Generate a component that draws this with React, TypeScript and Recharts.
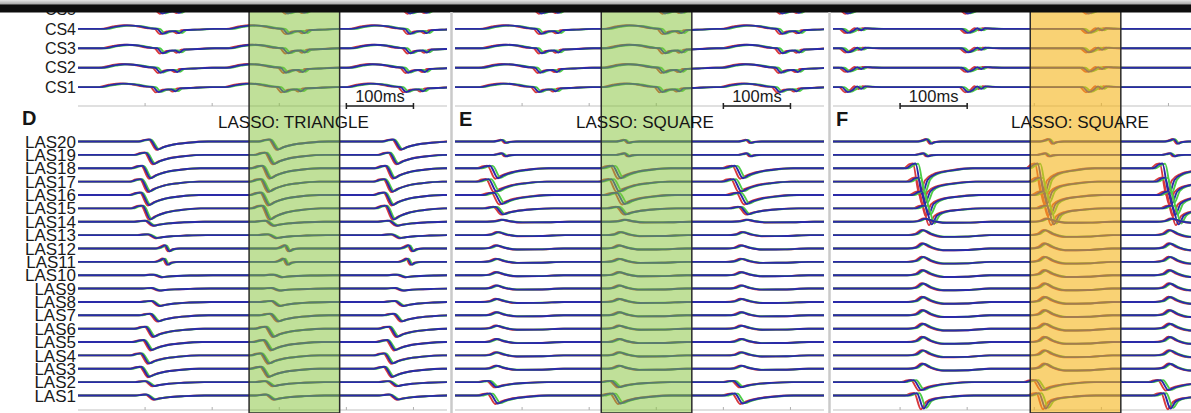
import React from 'react';
import { LineChart, Line, XAxis, YAxis, ReferenceArea, ReferenceLine } from 'recharts';

// channel names, top to bottom
const CS_LABELS = ['CS5', 'CS4', 'CS3', 'CS2', 'CS1'];
const LAS_LABELS = [
  'LAS20', 'LAS19', 'LAS18', 'LAS17', 'LAS16', 'LAS15', 'LAS14', 'LAS13', 'LAS12', 'LAS11',
  'LAS10', 'LAS9', 'LAS8', 'LAS7', 'LAS6', 'LAS5', 'LAS4', 'LAS3', 'LAS2', 'LAS1',
];
const AXIS_TICKS = [100, 200, 300, 400, 500];

// red, green, blue copies of each electrogram
const TRACE_COLORS = ['#d8393c', '#4dcc47', '#2a2aa8'];
const COLOR_SHIFT = [-2, 2, 0];
const COLOR_GAIN = [1.05, 0.95, 1];

// deflection templates: [ms from onset, normalised value]
const SHAPES: Record<string, number[][]> = {
  drop: [[-18, 0], [-8, 0.2], [-2, 0.25], [10, -1], [18, -0.72], [32, -0.4], [55, -0.15], [85, 0]],
  spike: [[-14, 0], [-5, 0.15], [0, 0.18], [10, -1], [18, -0.45], [30, -0.22], [55, -0.08], [85, 0]],
  notch: [[-10, 0], [-3, 0.35], [3, 0.8], [9, -0.7], [15, -0.2], [25, 0]],
  bump: [[-12, 0], [0, 0.2], [10, 1], [22, 0.25], [40, -0.35], [75, -0.3], [110, 0]],
  csD: [[-80, 0], [-62, 0.45], [-45, 0.7], [-28, 0.55], [-12, 0.15], [0, 0], [8, -1], [18, -0.5], [27, -0.45], [33, -0.85], [40, -0.25], [60, -0.15], [85, 0]],
  csF: [[-10, 0], [0, 0], [9, -1], [17, -0.5], [23, 0.15], [29, -0.35], [35, 0.15], [48, 0.05], [70, 0]],
};

// ---- panel D: LASSO triangle
const D_WINDOW = [255, 390];
const D_SCALE_BAR = [400, 500];
const D_CS_BEATS = [118, 305, 487];
const D_CS_DELAY = [0, 0, 0, -3, -6];
const D_CS_AMP = [4, 5, 5, 5, 5];
const D_LAS_BEATS = [97, 276, 460];
const D_LAS_DELAY = [12, 6, 1, -1, -1, 1, 6, 10, 30, 28, 18, 15, 15, 13, 6, 3, -1, -1, 6, 7];
const D_LAS_AMP = [8, 9, 10, 10, 10, 11, 4, 3, 4, 4, 2, 2, 4, 6, 8, 8, 8, 8, 4, 4];
const D_LAS_SHAPE = ['drop', 'drop', 'drop', 'drop', 'drop', 'drop', 'drop', 'drop', 'notch', 'notch',
  'drop', 'drop', 'drop', 'drop', 'drop', 'drop', 'drop', 'drop', 'drop', 'drop'];
const D_LAS_SPREAD = [1, 1, 1, 1, 1, 1, 1, 1, 1, 1, 1, 1, 1, 1, 1, 1, 1, 1, 1, 1];

// ---- panel E: LASSO square
const E_WINDOW = [218, 353];
const E_SCALE_BAR = [400, 500];
const E_CS_BEATS = [121, 305, 480];
const E_CS_DELAY = [0, 0, 0, -2, -4];
const E_CS_AMP = [4, 5, 5, 5, 5];
const E_LAS_BEATS = [52, 235, 417];
const E_LAS_DELAY = [15, 15, 2, 0, 8, 10, 8, 2, 0, 0, 0, 0, 0, 0, 0, 0, 0, 0, 0, 2];
const E_LAS_AMP = [2, 2, 10, 10, 9, 6, 2, 3, 3, 3, 3, 3, 3, 3, 3, 3, 3, 3, 5, 8];
const E_LAS_SHAPE = ['notch', 'notch', 'drop', 'drop', 'drop', 'drop', 'bump', 'bump', 'bump', 'bump',
  'bump', 'bump', 'bump', 'bump', 'bump', 'bump', 'bump', 'bump', 'drop', 'drop'];
const E_LAS_SPREAD = [1, 1, 2, 2, 2, 1.5, 1, 1, 1, 1, 1, 1, 1, 1, 1, 1, 1, 1, 1.5, 2];

// ---- panel F: LASSO square
const F_WINDOW = [294, 429];
const F_SCALE_BAR = [100, 200];
const F_CS_BEATS = [13, 192, 372];
const F_CS_DELAY = [0, 0, 0, 0, 0];
const F_CS_AMP = [4, 4, 4, 4, 5];
const F_LAS_BEATS = [122, 304, 490];
const F_LAS_DELAY = [15, 10, 1, 5, 10, 15, 5, 2, 2, 2, 2, 2, 2, 2, 2, 2, 2, 2, 0, 3];
const F_LAS_AMP = [3, 2, 26, 22, 20, 16, 3, 5, 5, 5, 5, 5, 5, 5, 5, 5, 5, 5, 8, 13];
const F_LAS_SHAPE = ['notch', 'notch', 'spike', 'spike', 'spike', 'spike', 'bump', 'bump', 'bump', 'bump',
  'bump', 'bump', 'bump', 'bump', 'bump', 'bump', 'bump', 'bump', 'drop', 'spike'];
const F_LAS_SPREAD = [1, 1, 2, 2, 2, 2, 1, 1, 1, 1, 1, 1, 1, 1, 1, 1, 1, 1, 2, 2];

// layout
const FONT = '"Liberation Sans", Arial, sans-serif';
const HEIGHT = 413;
const PLOT_W = 369;
const T_MAX = 550;
const CS_TOP = 9.5;
const CS_STEP = 19.4;
const LAS_TOP = 141.5;
const LAS_STEP = 13.37;
const MID_AXIS = 106;
const BOTTOM_AXIS = 410;

type Row = { base: number; beats: number[]; delay: number; amp: number; shape: string; spread: number };

function trace(row: Row, c: number) {
  const pts = [{ t: -20, v: row.base }];
  row.beats.forEach((b) => {
    SHAPES[row.shape].forEach(([dt, s]) => {
      pts.push({ t: b + row.delay + dt + COLOR_SHIFT[c] * row.spread, v: row.base - row.amp * COLOR_GAIN[c] * s });
    });
  });
  pts.push({ t: T_MAX + 20, v: row.base });
  return pts.sort((a, b) => a.t - b.t);
}

const panels = [
  {
    key: 'D', left: 0, labels: true, window: D_WINDOW, scaleBar: D_SCALE_BAR,
    box: '#86c43c', boxOpacity: 0.52,
    cs: { beats: D_CS_BEATS, delay: D_CS_DELAY, amp: D_CS_AMP, shape: 'csD' },
    las: { beats: D_LAS_BEATS, delay: D_LAS_DELAY, amp: D_LAS_AMP, shape: D_LAS_SHAPE, spread: D_LAS_SPREAD },
  },
  {
    key: 'E', left: 455, labels: false, window: E_WINDOW, scaleBar: E_SCALE_BAR,
    box: '#86c43c', boxOpacity: 0.52,
    cs: { beats: E_CS_BEATS, delay: E_CS_DELAY, amp: E_CS_AMP, shape: 'csD' },
    las: { beats: E_LAS_BEATS, delay: E_LAS_DELAY, amp: E_LAS_AMP, shape: E_LAS_SHAPE, spread: E_LAS_SPREAD },
  },
  {
    key: 'F', left: 833, labels: false, window: F_WINDOW, scaleBar: F_SCALE_BAR,
    box: '#f5b418', boxOpacity: 0.6,
    cs: { beats: F_CS_BEATS, delay: F_CS_DELAY, amp: F_CS_AMP, shape: 'csF' },
    las: { beats: F_LAS_BEATS, delay: F_LAS_DELAY, amp: F_LAS_AMP, shape: F_LAS_SHAPE, spread: F_LAS_SPREAD },
  },
];

const ALL_LABELS = [...CS_LABELS, ...LAS_LABELS];
const BASES = [
  ...CS_LABELS.map((_, i) => CS_TOP + i * CS_STEP),
  ...LAS_LABELS.map((_, i) => LAS_TOP + i * LAS_STEP),
];

const RowLabel = (props: any) => {
  const { x, y, index } = props;
  const isCs = index < CS_LABELS.length;
  const size = isCs ? 16 : 17;
  return (
    <text x={x} y={y + size * 0.36} textAnchor="end" fontSize={size} fill="#1a1a1a" fontFamily={FONT}>
      {ALL_LABELS[index]}
    </text>
  );
};

function Panel({ p }: { p: (typeof panels)[number] }) {
  const yAxisW = p.labels ? 78 : 0;
  const rows: Row[] = [
    ...CS_LABELS.map((_, i) => ({
      base: BASES[i], beats: p.cs.beats, delay: p.cs.delay[i], amp: p.cs.amp[i], shape: p.cs.shape, spread: 2,
    })),
    ...LAS_LABELS.map((_, i) => ({
      base: BASES[CS_LABELS.length + i], beats: p.las.beats, delay: p.las.delay[i], amp: p.las.amp[i],
      shape: p.las.shape[i], spread: p.las.spread[i],
    })),
  ];
  return (
    <div style={{ position: 'absolute', left: p.left, top: 0 }}>
      <LineChart
        width={PLOT_W + yAxisW}
        height={HEIGHT}
        margin={{ top: 0, right: 0, bottom: 0, left: 0 }}
        style={{ fontFamily: FONT }}
      >
        <XAxis type="number" dataKey="t" domain={[0, T_MAX]} allowDataOverflow hide />
        <YAxis
          type="number"
          domain={[0, HEIGHT]}
          reversed
          allowDataOverflow
          hide={!p.labels}
          width={yAxisW}
          ticks={BASES}
          interval={0}
          axisLine={false}
          tickLine={false}
          tickSize={0}
          tickMargin={2}
          tick={(props: any) => <RowLabel {...props} />}
        />
        <ReferenceLine y={MID_AXIS} stroke="#c2c2c2" strokeWidth={1.2} />
        <ReferenceLine y={BOTTOM_AXIS} stroke="#c2c2c2" strokeWidth={1.2} />
        {AXIS_TICKS.map((t) => (
          <ReferenceLine key={`mt${t}`} segment={[{ x: t, y: MID_AXIS }, { x: t, y: MID_AXIS - 3 }]} stroke="#b0b0b0" />
        ))}
        {AXIS_TICKS.map((t) => (
          <ReferenceLine key={`bt${t}`} segment={[{ x: t, y: BOTTOM_AXIS }, { x: t, y: BOTTOM_AXIS - 3 }]} stroke="#b0b0b0" />
        ))}
        {rows.flatMap((row, r) =>
          TRACE_COLORS.map((color, c) => (
            <Line
              key={`${p.key}-${r}-${c}`}
              data={trace(row, c)}
              dataKey="v"
              type="monotone"
              stroke={color}
              strokeWidth={1.9}
              dot={false}
              activeDot={false}
              isAnimationActive={false}
            />
          ))
        )}
        <ReferenceArea
          x1={p.window[0]}
          x2={p.window[1]}
          y1={0}
          y2={HEIGHT}
          fill={p.box}
          fillOpacity={p.boxOpacity}
          stroke="#2b2b2b"
          strokeWidth={1.5}
          ifOverflow="extendDomain"
          zIndex={450}
        />
        <ReferenceLine
          segment={[{ x: p.scaleBar[0], y: MID_AXIS }, { x: p.scaleBar[1], y: MID_AXIS }]}
          stroke="#222"
          strokeWidth={1.5}
          label={{ value: '100ms', position: 'top', offset: 4, fill: '#1a1a1a', fontSize: 16.5 }}
        />
        {p.scaleBar.map((t) => (
          <ReferenceLine key={`sb${t}`} segment={[{ x: t, y: MID_AXIS - 3 }, { x: t, y: MID_AXIS + 3 }]} stroke="#222" strokeWidth={1.5} />
        ))}
      </LineChart>
    </div>
  );
}

export default function App() {
  return (
    <div style={{ position: 'absolute', left: 0, top: 0, width: 1191, height: HEIGHT, overflow: 'hidden', background: '#fff' }}>
      {panels.map((p) => (
        <Panel key={p.key} p={p} />
      ))}
      <svg width={1191} height={HEIGHT} style={{ position: 'absolute', left: 0, top: 0, pointerEvents: 'none' }}>
        <defs>
          <linearGradient id="topfade" x1="0" y1="0" x2="0" y2="1">
            <stop offset="0" stopColor="#e6e6e6" />
            <stop offset="1" stopColor="#9a9a9a" />
          </linearGradient>
        </defs>
        <rect x={0} y={0} width={1191} height={5} fill="url(#topfade)" />
        <rect x={0} y={4.5} width={1191} height={8} fill="#0d0d0d" />
        <line x1={451.5} y1={12} x2={451.5} y2={HEIGHT} stroke="#cacaca" strokeWidth={2.5} />
        <line x1={829.5} y1={12} x2={829.5} y2={HEIGHT} stroke="#cacaca" strokeWidth={2.5} />
        <g fontFamily={FONT} fill="#151515">
          <text x={22} y={125} fontSize={20} fontWeight="bold">D</text>
          <text x={218} y={128} fontSize={17}>LASSO: TRIANGLE</text>
          <text x={459} y={126} fontSize={20} fontWeight="bold">E</text>
          <text x={576} y={128} fontSize={17}>LASSO: SQUARE</text>
          <text x={836} y={126} fontSize={20} fontWeight="bold">F</text>
          <text x={1011} y={128} fontSize={17}>LASSO: SQUARE</text>
        </g>
      </svg>
    </div>
  );
}
